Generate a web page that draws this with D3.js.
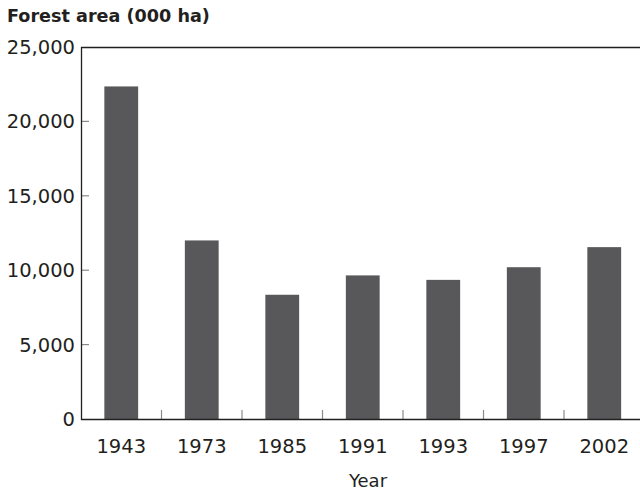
<!DOCTYPE html>
<html>
<head>
<meta charset="utf-8">
<title>Forest area</title>
<script src="https://d3js.org/d3.v7.min.js"></script>
<style>
  body { margin: 0; background: #fff; }
  text { font-family: "DejaVu Sans", sans-serif; fill: #231f20; }
</style>
</head>
<body>
<div id="chart"></div>
<script>
// data
var years = ["1943", "1973", "1985", "1991", "1993", "1997", "2002"];
var forestArea = [22350, 12000, 8350, 9650, 9350, 10200, 11550];
var yTicks = [0, 5000, 10000, 15000, 20000, 25000];

var W = 640, H = 491;
var margin = {top: 47, right: -4.5, bottom: 72, left: 81};
var width = W - margin.left - margin.right,
    height = H - margin.top - margin.bottom;

var svg = d3.select("#chart").append("svg")
    .attr("width", W)
    .attr("height", H);

// title
svg.append("text")
    .attr("x", 7)
    .attr("y", 22)
    .style("font-weight", "bold")
    .style("font-size", "17.6px")
    .text("Forest area (000 ha)");

var g = svg.append("g")
    .attr("transform", "translate(" + margin.left + "," + margin.top + ")");

var x = d3.scaleBand().domain(years).range([0, width]).padding(0);
var y = d3.scaleLinear().domain([0, 25000]).range([height, 0]);

// bars
var barFrac = 0.42;
g.selectAll("rect.bar")
    .data(years)
    .enter()
    .append("rect")
    .attr("class", "bar")
    .attr("x", function(d) { return x(d) + x.bandwidth() * (1 - barFrac) / 2; })
    .attr("width", x.bandwidth() * barFrac)
    .attr("y", function(d, i) { return y(forestArea[i]); })
    .attr("height", function(d, i) { return height - y(forestArea[i]); })
    .attr("fill", "#58585a");

// y axis labels
g.selectAll("text.ylab")
    .data(yTicks)
    .enter()
    .append("text")
    .attr("class", "ylab")
    .attr("x", -6)
    .attr("y", function(d) { return y(d); })
    .attr("dy", "0.36em")
    .attr("text-anchor", "end")
    .style("font-size", "19.5px")
    .text(function(d) { return d3.format(",")(d); });

// small inward ticks on y axis
g.selectAll("line.ytick")
    .data(yTicks.slice(1, -1))
    .enter()
    .append("line")
    .attr("x1", 0).attr("x2", 8)
    .attr("y1", function(d) { return y(d); })
    .attr("y2", function(d) { return y(d); })
    .attr("stroke", "#8a8a8a")
    .attr("stroke-width", 1.2);

// x ticks between the bars
g.selectAll("line.xtick")
    .data(years.slice(1))
    .enter()
    .append("line")
    .attr("x1", function(d) { return x(d); })
    .attr("x2", function(d) { return x(d); })
    .attr("y1", height)
    .attr("y2", height - 9)
    .attr("stroke", "#8a8a8a")
    .attr("stroke-width", 1.2);

// x labels
g.selectAll("text.xlab")
    .data(years)
    .enter()
    .append("text")
    .attr("x", function(d) { return x(d) + x.bandwidth() / 2; })
    .attr("y", height + 33.5)
    .attr("text-anchor", "middle")
    .style("font-size", "19.5px")
    .text(function(d) { return d; });

// frame: left, top, bottom
g.append("path")
    .attr("d", "M" + (width + 10) + ",0.5H0.5V" + (height + 0.5) + "H" + (width + 10))
    .attr("fill", "none")
    .attr("stroke", "#231f20")
    .attr("stroke-width", 1.3);

// axis title
svg.append("text")
    .attr("x", 368)
    .attr("y", 487)
    .attr("text-anchor", "middle")
    .style("font-size", "18px")
    .text("Year");
</script>
</body>
</html>
